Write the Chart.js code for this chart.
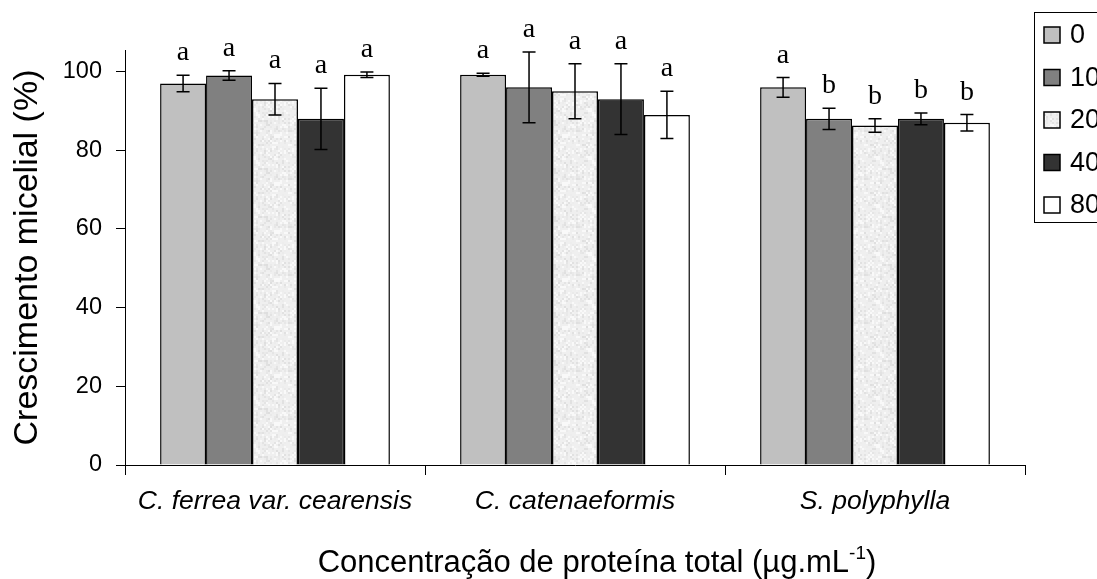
<!DOCTYPE html>
<html>
<head>
<meta charset="utf-8">
<script src="https://cdn.jsdelivr.net/npm/chart.js@4.4.1/dist/chart.umd.min.js"></script>
<style>
  html, body { margin: 0; padding: 0; background: #fff; overflow: hidden; }
  #wrap { width: 1097px; height: 579px; }
</style>
</head>
<body>
<div id="wrap"><canvas id="c" width="1097" height="579"></canvas></div>
<script>
// ---- data ----
const categories = ['C. ferrea var. cearensis', 'C. catenaeformis', 'S. polyphylla'];
const seriesLabels = ['0', '10', '20', '40', '80'];
const yTicks = [0, 20, 40, 60, 80, 100];

const values0  = [97.0, 99.2, 96.0];
const values10 = [99.0, 96.0, 88.0];
const values20 = [93.0, 95.0, 86.3];
const values40 = [88.0, 93.0, 88.0];
const values80 = [99.2, 89.0, 87.0];

const errors0  = [2.1, 0.4, 2.5];
const errors10 = [1.2, 9.0, 2.7];
const errors20 = [4.0, 7.0, 1.7];
const errors40 = [7.8, 9.0, 1.5];
const errors80 = [0.7, 6.0, 2.1];

const letters0  = ['a', 'a', 'a'];
const letters10 = ['a', 'a', 'b'];
const letters20 = ['a', 'a', 'b'];
const letters40 = ['a', 'a', 'b'];
const letters80 = ['a', 'a', 'b'];

const xTitleMain = 'Concentração de proteína total (µg.mL';
const xTitleSup = '-1';
const xTitleEnd = ')';
const yTitle = 'Crescimento micelial (%)';

// ---- styles ----
function speckle() {
  const c = document.createElement('canvas');
  c.width = 48; c.height = 48;
  const g = c.getContext('2d');
  g.fillStyle = '#efefef';
  g.fillRect(0, 0, 48, 48);
  for (let y = 0; y < 48; y += 2) {
    for (let x = 0; x < 48; x += 2) {
      const h = Math.abs(Math.sin(x * 12.9898 + y * 78.233) * 43758.5453) % 1;
      if (h > 0.6) {
        const s = Math.round(222 + (h - 0.6) * 50);
        g.fillStyle = 'rgb(' + s + ',' + s + ',' + s + ')';
        g.fillRect(x, y, 2, 2);
      } else if (h < 0.2) {
        g.fillStyle = '#f9f9f9';
        g.fillRect(x, y, 2, 2);
      }
    }
  }
  return document.getElementById('c').getContext('2d').createPattern(c, 'repeat');
}
const fills = ['#c0c0c0', '#808080', speckle(), '#333333', '#ffffff'];
const valueSets = [values0, values10, values20, values40, values80];
const errorSets = [errors0, errors10, errors20, errors40, errors80];
const letterSets = [letters0, letters10, letters20, letters40, letters80];

const datasets = seriesLabels.map((lab, i) => ({
  label: lab,
  data: valueSets[i],
  errors: errorSets[i],
  letters: letterSets[i],
  backgroundColor: fills[i],
  borderColor: '#000',
  borderWidth: 1.5,
  borderSkipped: 'bottom',
  barPercentage: 1.0,
  categoryPercentage: 0.766
}));

// ---- plugins ----
const errorBarPlugin = {
  id: 'errbars',
  afterDatasetsDraw(chart) {
    const ctx = chart.ctx;
    const y = chart.scales.y;
    ctx.save();
    chart.data.datasets.forEach((ds, di) => {
      const meta = chart.getDatasetMeta(di);
      meta.data.forEach((bar, i) => {
        const v = ds.data[i], e = ds.errors[i];
        const yt = y.getPixelForValue(v + e);
        const yb = y.getPixelForValue(v - e);
        ctx.strokeStyle = '#000';
        ctx.lineWidth = 1.5;
        ctx.beginPath();
        ctx.moveTo(bar.x, yt); ctx.lineTo(bar.x, yb);
        ctx.moveTo(bar.x - 6.5, yt); ctx.lineTo(bar.x + 6.5, yt);
        ctx.moveTo(bar.x - 6.5, yb); ctx.lineTo(bar.x + 6.5, yb);
        ctx.stroke();
        ctx.fillStyle = '#000';
        ctx.font = '28px "Liberation Serif", "Times New Roman", serif';
        ctx.textAlign = 'center';
        ctx.textBaseline = 'alphabetic';
        ctx.fillText(ds.letters[i], bar.x, yt - 15);
      });
    });
    ctx.restore();
  }
};

const boxLegendPlugin = {
  id: 'boxLegend',
  afterDraw(chart) {
    const ctx = chart.ctx;
    const ca = chart.chartArea;
    const left = ca.right + 9;
    const top = 12;
    const rowH = 42.5;
    ctx.save();
    ctx.strokeStyle = '#000';
    ctx.lineWidth = 1;
    ctx.strokeRect(left + 0.5, top + 0.5, 120, 210);
    chart.data.datasets.forEach((ds, i) => {
      const cy = top + 23 + i * rowH;
      ctx.fillStyle = ds.backgroundColor;
      ctx.fillRect(left + 10, cy - 8, 16, 16);
      ctx.strokeStyle = '#000';
      ctx.lineWidth = 1.5;
      ctx.strokeRect(left + 10, cy - 8, 16, 16);
      ctx.fillStyle = '#000';
      ctx.font = '27px "Liberation Sans", Arial, sans-serif';
      ctx.textAlign = 'left';
      ctx.textBaseline = 'middle';
      ctx.fillText(ds.label, left + 36, cy + 1);
    });
    ctx.restore();
  }
};

const xTitlePlugin = {
  id: 'xTitle',
  afterDraw(chart) {
    const ctx = chart.ctx;
    const ca = chart.chartArea;
    const main = '31px "Liberation Sans", Arial, sans-serif';
    const sup = '19px "Liberation Sans", Arial, sans-serif';
    ctx.save();
    ctx.fillStyle = '#000';
    ctx.textBaseline = 'alphabetic';
    ctx.textAlign = 'left';
    ctx.font = main;
    const w1 = ctx.measureText(xTitleMain).width;
    const w3 = ctx.measureText(xTitleEnd).width;
    ctx.font = sup;
    const w2 = ctx.measureText(xTitleSup).width;
    const total = w1 + w2 + w3;
    const cx = (ca.left + ca.right) / 2 + 22;
    const baseY = chart.height - 7;
    let x = cx - total / 2;
    ctx.font = main;
    ctx.fillText(xTitleMain, x, baseY);
    x += w1;
    ctx.font = sup;
    ctx.fillText(xTitleSup, x, baseY - 13);
    x += w2;
    ctx.font = main;
    ctx.fillText(xTitleEnd, x, baseY);
    ctx.restore();
  }
};

Chart.defaults.font.family = '"Liberation Sans", Arial, sans-serif';
Chart.defaults.color = '#000';

new Chart(document.getElementById('c'), {
  type: 'bar',
  data: { labels: categories, datasets },
  options: {
    responsive: false,
    animation: false,
    devicePixelRatio: 1,
    layout: { padding: { left: 0, right: 72, top: 50, bottom: 0 } },
    plugins: {
      legend: { display: false },
      tooltip: { enabled: false }
    },
    scales: {
      x: {
        offset: true,
        grid: { display: true, offset: true, drawOnChartArea: false, drawTicks: true, tickLength: 10, color: '#000', lineWidth: 1 },
        border: { display: true, color: '#000', width: 1 },
        ticks: { font: { size: 26.5, style: 'italic' }, padding: 11, color: '#000', maxRotation: 0, autoSkip: false },
        title: { display: false },
        afterFit(scale) { scale.height = 114; }
      },
      y: {
        min: 0,
        max: 105.5,
        afterBuildTicks(scale) { scale.ticks = yTicks.map(v => ({ value: v })); },
        grid: { display: true, drawOnChartArea: false, drawTicks: true, tickLength: 9, color: '#000', lineWidth: 1 },
        border: { display: true, color: '#000', width: 1 },
        ticks: { font: { size: 23.5 }, padding: 14, color: '#000' },
        title: { display: true, text: yTitle, font: { size: 34 }, padding: { top: 7, bottom: 0 }, color: '#000' },
        afterFit(scale) { scale.width = 125; }
      }
    }
  },
  plugins: [errorBarPlugin, boxLegendPlugin, xTitlePlugin]
});
</script>
</body>
</html>
